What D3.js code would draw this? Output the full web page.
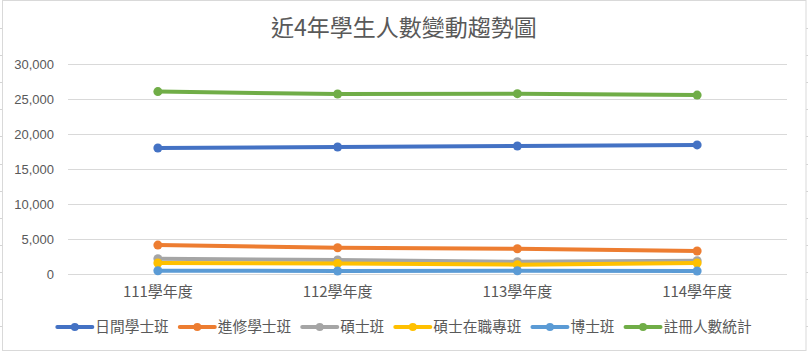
<!DOCTYPE html>
<html><head><meta charset="utf-8">
<script src="https://cdn.jsdelivr.net/npm/d3@7"></script>
<style>body{margin:0;background:#fff}svg{display:block}</style>
</head><body>
<script>
const categories = ["111學年度","112學年度","113學年度","114學年度"];
const seriesNames = ["日間學士班","進修學士班","碩士班","碩士在職專班","博士班","註冊人數統計"];
const dayUndergrad = [17950, 18100, 18250, 18400];
const eveningUndergrad = [4120, 3740, 3600, 3270];
const masters = [2180, 1990, 1750, 1890];
const mastersInService = [1560, 1510, 1330, 1560];
const doctoral = [470, 430, 470, 430];
const totalRegistered = [26000, 25650, 25700, 25500];
const yTicks = [0, 5000, 10000, 15000, 20000, 25000, 30000];
const colors = ["#4472C4","#ED7D31","#A5A5A5","#FFC000","#5B9BD5","#70AD47"];
const seriesValues = [dayUndergrad, eveningUndergrad, masters, mastersInService, doctoral, totalRegistered];

const W = 808, H = 355;
const svg = d3.select("body").append("svg").attr("width", W).attr("height", H);

// spreadsheet background ticks
const rows = d3.range(28, 350, 27.1);
svg.selectAll("line.rowl").data(rows).enter().append("line")
  .attr("x1", 0).attr("x2", 2).attr("y1", d => Math.round(d)+0.5).attr("y2", d => Math.round(d)+0.5)
  .attr("stroke", "#d4d4d4");
svg.selectAll("line.rowr").data(rows).enter().append("line")
  .attr("x1", 806).attr("x2", 808).attr("y1", d => Math.round(d)+0.5).attr("y2", d => Math.round(d)+0.5)
  .attr("stroke", "#d4d4d4");

// chart border
svg.append("rect").attr("x", 2.5).attr("y", 0.5).attr("width", 803.5).attr("height", 350)
  .attr("fill", "#fff").attr("stroke", "#d9d9d9");

const font = "'Noto Sans CJK TC','Noto Sans',sans-serif";

svg.append("text").attr("x", 404).attr("y", 36).attr("text-anchor", "middle")
  .attr("font-family", font).attr("font-size", 23).attr("fill", "#595959")
  .text("近4年學生人數變動趨勢圖");

const x = d3.scaleBand().domain(categories).range([68, 787]);
const y = d3.scaleLinear().domain([0, 30000]).range([274, 63.5]);

const g = svg.append("g");
g.selectAll("line.grid").data(yTicks).enter().append("line")
  .attr("x1", 68).attr("x2", 787)
  .attr("y1", d => Math.round(y(d)) + 0.5).attr("y2", d => Math.round(y(d)) + 0.5)
  .attr("stroke", "#d9d9d9").attr("stroke-width", 1);

const yAxis = d3.axisLeft(y).tickValues(yTicks).tickSize(0).tickPadding(0).tickFormat(d3.format(","));
const ya = svg.append("g").attr("transform", "translate(54,0)").call(yAxis);
ya.select(".domain").remove();
ya.selectAll("text").attr("font-family", "'Liberation Sans',Arial,sans-serif").attr("font-size", 13)
  .attr("fill", "#595959").attr("dy", "0.35em");

const xAxis = d3.axisBottom(x).tickSize(0).tickPadding(0);
const xa = svg.append("g").attr("transform", "translate(0,286)").call(xAxis);
xa.select(".domain").remove();
xa.selectAll("text").attr("font-family", font).attr("font-size", 15).attr("fill", "#595959").attr("dy", "0.71em");

const cx = d => x(d) + x.bandwidth() / 2;
const line = d3.line().x(d => cx(d.c)).y(d => y(d.v));

seriesValues.forEach((vals, i) => {
  const pts = vals.map((v, j) => ({c: categories[j], v}));
  g.append("path").datum(pts).attr("d", line).attr("fill", "none")
    .attr("stroke", colors[i]).attr("stroke-width", 4).attr("stroke-linecap", "round");
  g.selectAll(null).data(pts).enter().append("circle")
    .attr("cx", d => cx(d.c)).attr("cy", d => y(d.v)).attr("r", 4.5).attr("fill", colors[i]);
});

// legend
const leg = svg.append("g");
let lx = 0;
const items = [];
seriesNames.forEach((n, i) => {
  const it = leg.append("g");
  it.append("line").attr("x1", 0).attr("x2", 35).attr("y1", 0).attr("y2", 0)
    .attr("stroke", colors[i]).attr("stroke-width", 4).attr("stroke-linecap", "round");
  it.append("circle").attr("cx", 17.5).attr("cy", 0).attr("r", 4).attr("fill", colors[i]);
  const t = it.append("text").attr("x", 38).attr("y", 0).attr("dy", "0.35em")
    .attr("font-family", font).attr("font-size", 14.7).attr("fill", "#595959").text(n);
  const w = t.node().getComputedTextLength();
  it.attr("transform", `translate(${lx},327)`);
  lx += 38 + w + 11;
});
const total = lx - 11;
leg.attr("transform", `translate(${404.5 - total/2},0)`);
</script>
</body></html>
